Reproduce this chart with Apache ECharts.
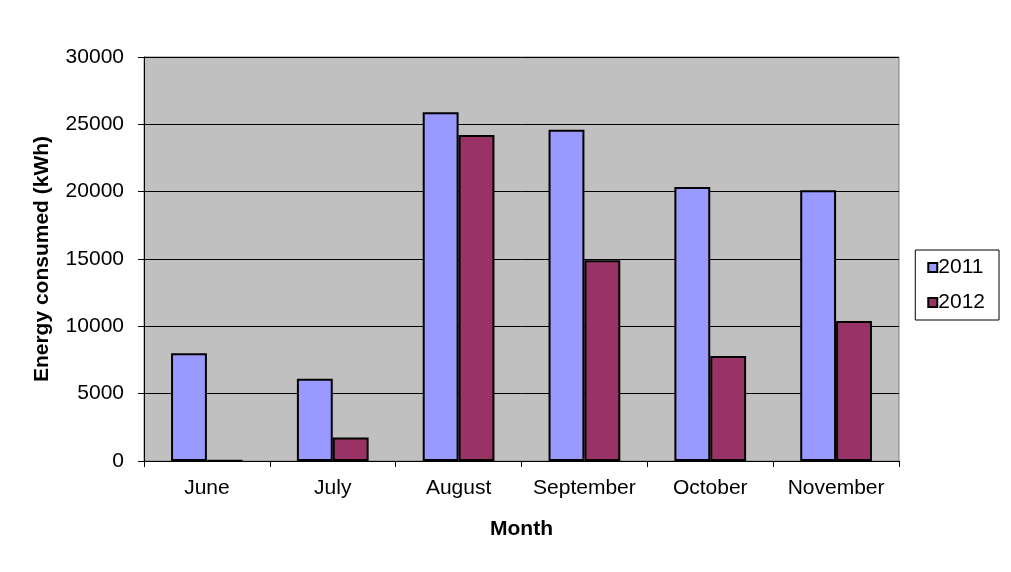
<!DOCTYPE html>
<html><head><meta charset="utf-8">
<script src="https://cdn.jsdelivr.net/npm/echarts@6/dist/echarts.min.js"></script>
<style>html,body{margin:0;padding:0;background:#fff}#c{width:1011px;height:572px}</style>
</head><body><div id="c"></div>
<script>
const categories = ['June','July','August','September','October','November'];
const s2011 = [8000, 6100, 25900, 24600, 20350, 20100];
const s2012 = [50, 1750, 24200, 14900, 7800, 10400];
const yTicks = [0, 5000, 10000, 15000, 20000, 25000, 30000];

const chart = echarts.init(document.getElementById('c'), null, {renderer:'canvas'});
const font = 'Liberation Sans, Arial, sans-serif';
chart.setOption({
  animation:false,
  backgroundColor:'#fff',
  grid:{left:144,right:112,top:57,bottom:111,show:true,backgroundColor:'#C0C0C0',borderColor:'#808080',borderWidth:1},
  legend:{
    right:12, top:250, orient:'vertical', itemWidth:9, itemHeight:9, itemGap:14,
    padding:[7,14,7,12], borderColor:'#000', borderWidth:1, backgroundColor:'#fff',
    icon:'rect',
    textStyle:{fontFamily:font,fontSize:21,color:'#000',padding:[0,0,0,-4]},
    data:['2011','2012']
  },
  xAxis:{
    type:'category', data:categories, name:'Month', nameLocation:'middle', nameGap:58,
    nameTextStyle:{fontFamily:font,fontSize:21,fontWeight:'bold',color:'#000'},
    axisLine:{lineStyle:{color:'#000',width:1}},
    axisTick:{show:true,length:6,interval:0,lineStyle:{color:'#000'}},
    axisLabel:{fontFamily:font,fontSize:21,color:'#000',margin:17,interval:0,hideOverlap:false}
  },
  yAxis:{
    type:'value', min:yTicks[0], max:yTicks[yTicks.length-1], interval:5000,
    name:'Energy consumed (kWh)', nameLocation:'middle', nameGap:91,
    nameTextStyle:{fontFamily:font,fontSize:21,fontWeight:'bold',color:'#000'},
    axisLine:{show:true,lineStyle:{color:'#000',width:1}},
    axisTick:{show:true,length:6,lineStyle:{color:'#000'}},
    axisLabel:{fontFamily:font,fontSize:21,color:'#000',margin:20,formatter:v=>String(v)},
    splitLine:{show:true,lineStyle:{color:'#000',width:1}}
  },
  series:[
    {name:'2011',type:'bar',data:s2011,barGap:'0%',barCategoryGap:'43%',
     itemStyle:{color:'#9999FF',borderColor:'#000',borderWidth:2}},
    {name:'2012',type:'bar',data:s2012,
     itemStyle:{color:'#993366',borderColor:'#000',borderWidth:2}}
  ]
});
</script></body></html>
